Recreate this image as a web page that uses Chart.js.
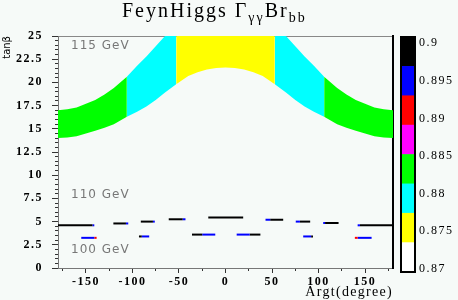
<!DOCTYPE html>
<html>
<head>
<meta charset="utf-8">
<script src="https://cdn.jsdelivr.net/npm/chart.js@4.4.0/dist/chart.umd.min.js"></script>
<style>
  html, body { margin: 0; padding: 0; background: #f6faf8; }
  #wrap { position: relative; width: 458px; height: 300px; }
  #main { position: absolute; left: 0; top: 0; }
  #pal { position: absolute; left: 395px; top: 0; }
</style>
</head>
<body>
<div id="wrap">
  <canvas id="main" width="458" height="300"></canvas>
  <canvas id="pal" width="63" height="300"></canvas>
</div>
<script>
// 115 GeV band: lower / upper tanb edge, sampled along Argt
const argt = [-180,-170,-160,-150,-140,-130,-120,-106,-95,-85,-75,-65,-53,-40,-30,-20,-10,0,10,20,30,40,53,65,75,85,95,106,120,130,140,150,160,170,180];
const bandLow = [14.0,14.05,14.2,14.5,14.8,15.1,15.5,16.3,16.85,17.4,18.1,18.9,19.8,20.7,21.1,21.4,21.55,21.6,21.55,21.4,21.1,20.7,19.8,18.9,18.1,17.4,16.85,16.3,15.5,15.1,14.8,14.5,14.2,14.05,14.0];
const bandHigh = [17.0,17.1,17.3,17.7,18.1,18.7,19.4,20.6,21.8,22.8,23.9,25,25,25,25,25,25,25,25,25,25,25,25,25,23.9,22.8,21.8,20.6,19.4,18.7,18.1,17.7,17.3,17.1,17.0];
// colour zones of the band (Argt edges) and their ratio value
const zoneEdges = [-180, -106, -53, 53, 106, 180];
const zoneZ = [0.883, 0.879, 0.875, 0.879, 0.883];

// low tanb pieces (110 / 100 GeV)
const segFrom = [-180,-143,-155,-141,-120.5,-107,-91,-78,-93,-90,-61,-46,-36,-25,-18.5,12,26,43,48,75.5,80,83.5,92,105,107,142,144.5,139,142];
const segTo   = [-143,-141,-141,-138.5,-107,-104.5,-78,-76,-90,-82,-46,-43,-25,-11,19,26,37.5,48,62,80,91,92,94,107,121.5,144.5,180,142,157];
const segTan  = [4.6,4.6,3.25,3.25,4.8,4.8,5.0,5.0,3.4,3.4,5.25,5.25,3.6,3.6,5.45,3.6,3.6,5.2,5.2,5.0,5.0,3.4,3.4,4.85,4.85,4.6,4.6,3.25,3.25];
const segZ    = [0.899,0.895,0.895,0.891,0.899,0.895,0.899,0.895,0.899,0.895,0.899,0.895,0.899,0.895,0.899,0.895,0.899,0.895,0.899,0.895,0.899,0.895,0.899,0.895,0.899,0.895,0.899,0.891,0.895];

// palette
const palEdges = [0.8696,0.8735,0.8774,0.8813,0.8852,0.8891,0.8930,0.8969,0.9008];
const palColors = ['#ffffff','#ffff00','#00ffff','#00ff00','#ff00ff','#ff0000','#0000ff','#000000'];

const xTicks = [-150,-100,-50,0,50,100,150];
const xMinorTicks = [-175,-125,-75,-25,25,75,125,175];
const yTicks = [0,2.5,5,7.5,10,12.5,15,17.5,20,22.5,25];
const palTicks = [0.87,0.875,0.88,0.885,0.89,0.895,0.9];

const massLabels = ['115 GeV','110 GeV','100 GeV'];
const massLabelTan = [23.9, 7.9, 1.9];
const massLabelArgt = -166;

function colorOf(z) {
  for (let i = 0; i < palColors.length; i++) {
    if (z < palEdges[i + 1]) return palColors[i];
  }
  return palColors[palColors.length - 1];
}

const datasets = [];
zoneZ.forEach((z, k) => {
  const idx = argt.map((a, i) => i).filter(i => argt[i] >= zoneEdges[k] && argt[i] <= zoneEdges[k + 1]);
  datasets.push({
    data: idx.map(i => ({x: argt[i], y: bandLow[i]})),
    borderWidth: 0, borderColor: 'rgba(0,0,0,0)', pointRadius: 0, fill: false
  });
  datasets.push({
    data: idx.map(i => ({x: argt[i], y: bandHigh[i]})),
    borderWidth: 0, borderColor: 'rgba(0,0,0,0)', pointRadius: 0,
    fill: '-1', backgroundColor: colorOf(z)
  });
});
segFrom.forEach((x0, i) => {
  datasets.push({
    data: [{x: x0, y: segTan[i]}, {x: segTo[i], y: segTan[i]}],
    borderColor: colorOf(segZ[i]), borderWidth: 2, borderCapStyle: 'butt',
    pointRadius: 0, fill: false
  });
});

const tickFont = {family: '"Liberation Serif", serif', size: 12, weight: 'bold'};

const spacing = {
  id: 'spacing',
  beforeDraw(chart) { chart.ctx.letterSpacing = '1.5px'; }
};

const texts = {
  id: 'texts',
  afterDraw(chart) {
    const ctx = chart.ctx;
    const xs = chart.scales.x, ys = chart.scales.y;
    ctx.save();
    ctx.fillStyle = '#000';
    ctx.textBaseline = 'alphabetic';
    ctx.textAlign = 'left';
    // title
    ctx.letterSpacing = '2px';
    let x = 122;
    const parts = [['FeynHiggs \u0393', 20, 17], ['\u03b3\u03b3', 14, 22], ['Br', 20, 17], ['bb', 14, 22]];
    parts.forEach(p => {
      ctx.font = p[1] + 'px "Liberation Serif", serif';
      ctx.fillText(p[0], x, p[2]);
      x += ctx.measureText(p[0]).width;
    });
    // axis titles
    ctx.letterSpacing = '1.3px';
    ctx.font = '14px "Liberation Serif", serif';
    ctx.textAlign = 'right';
    ctx.textBaseline = 'middle';
    ctx.fillText('Argt(degree)', chart.chartArea.right, 292);
    ctx.save();
    ctx.translate(7, chart.chartArea.top);
    ctx.rotate(-Math.PI / 2);
    ctx.letterSpacing = '0px';
    ctx.font = '10px "DejaVu Sans", sans-serif';
    ctx.textAlign = 'right';
    ctx.fillText('tan\u03b2', 0, 0);
    ctx.restore();
    // mass labels
    ctx.fillStyle = '#777';
    ctx.font = '12px "DejaVu Sans", sans-serif';
    ctx.letterSpacing = '1px';
    ctx.textAlign = 'left';
    massLabels.forEach((t, i) => {
      ctx.fillText(t, xs.getPixelForValue(massLabelArgt), ys.getPixelForValue(massLabelTan[i]));
    });
    ctx.restore();
  }
};

new Chart(document.getElementById('main'), {
  type: 'line',
  data: {datasets: datasets},
  options: {
    responsive: false,
    animation: false,
    events: [],
    layout: {padding: {top: 36, right: 65, left: 0, bottom: 0}},
    plugins: {legend: {display: false}, tooltip: {enabled: false}},
    scales: {
      x: {
        type: 'linear', min: -180, max: 180, position: 'bottom', weight: 1,
        afterBuildTicks: s => { s.ticks = xTicks.map(v => ({value: v})); },
        afterFit: s => { s.height = 32; },
        ticks: {callback: v => String(v), font: tickFont, color: '#000', padding: 2, maxRotation: 0, autoSkip: false},
        grid: {drawOnChartArea: false, tickLength: 5, color: '#333'},
        border: {color: '#777', width: 1}
      },
      xMinor: {
        type: 'linear', min: -180, max: 180, position: 'bottom', weight: 0,
        afterBuildTicks: s => { s.ticks = xMinorTicks.map(v => ({value: v})); },
        afterFit: s => { s.height = 0; },
        ticks: {display: false},
        grid: {drawOnChartArea: false, tickLength: 3, color: '#333'},
        border: {display: false}
      },
      xTop: {
        type: 'linear', min: -180, max: 180, position: 'top',
        afterFit: s => { s.height = 0; },
        ticks: {display: false},
        grid: {display: false},
        border: {color: '#888', width: 1}
      },
      y: {
        type: 'linear', min: 0, max: 25, position: 'left', weight: 1,
        afterBuildTicks: s => { s.ticks = yTicks.map(v => ({value: v})); },
        afterFit: s => { s.width = 58; },
        ticks: {callback: v => String(v), font: tickFont, color: '#000', padding: 9, autoSkip: false},
        grid: {drawOnChartArea: false, tickLength: 6, color: '#333'},
        border: {color: '#777', width: 1}
      },
      yMinor: {
        type: 'linear', min: 0, max: 25, position: 'left', weight: 0,
        afterBuildTicks: s => {
          const t = [];
          for (let v = 0; v <= 25.001; v += 0.5) t.push({value: v});
          s.ticks = t;
        },
        afterFit: s => { s.width = 0; },
        ticks: {display: false},
        grid: {drawOnChartArea: false, tickLength: 3, color: '#333'},
        border: {display: false}
      },
      yRight: {
        type: 'linear', min: 0, max: 25, position: 'right',
        afterFit: s => { s.width = 0; },
        ticks: {display: false},
        grid: {display: false},
        border: {color: '#000', width: 2}
      }
    }
  },
  plugins: [spacing, texts]
});

const palFrame = {
  id: 'palFrame',
  afterDraw(chart) {
    const a = chart.chartArea, ctx = chart.ctx;
    ctx.save();
    ctx.strokeStyle = '#000';
    ctx.lineWidth = 2;
    ctx.strokeRect(a.left, a.top, a.right - a.left, a.bottom - a.top);
    ctx.restore();
  }
};

new Chart(document.getElementById('pal'), {
  type: 'bar',
  data: {
    labels: [''],
    datasets: palColors.map((c, i) => ({
      data: [[palEdges[i], palEdges[i + 1]]],
      backgroundColor: c, borderWidth: 0,
      barPercentage: 1, categoryPercentage: 1, grouped: false
    }))
  },
  options: {
    responsive: false,
    animation: false,
    events: [],
    layout: {padding: {left: 6, top: 37, bottom: 28, right: 0}},
    plugins: {legend: {display: false}, tooltip: {enabled: false}},
    scales: {
      x: {display: false},
      y: {
        position: 'right', min: palEdges[0], max: palEdges[palEdges.length - 1], z: 1,
        afterBuildTicks: s => { s.ticks = palTicks.map(v => ({value: v})); },
        afterFit: s => { s.width = 43; },
        ticks: {callback: v => String(v), font: {family: '"Liberation Serif", serif', size: 12}, color: '#000', padding: 4},
        grid: {
          drawTicks: false, lineWidth: 1,
          color: c => (c.tick && c.tick.value > palTicks[0] && c.tick.value < palTicks[palTicks.length - 1]) ? '#000' : 'rgba(0,0,0,0)'
        },
        border: {display: false}
      }
    }
  },
  plugins: [spacing, palFrame]
});
</script>
</body>
</html>
